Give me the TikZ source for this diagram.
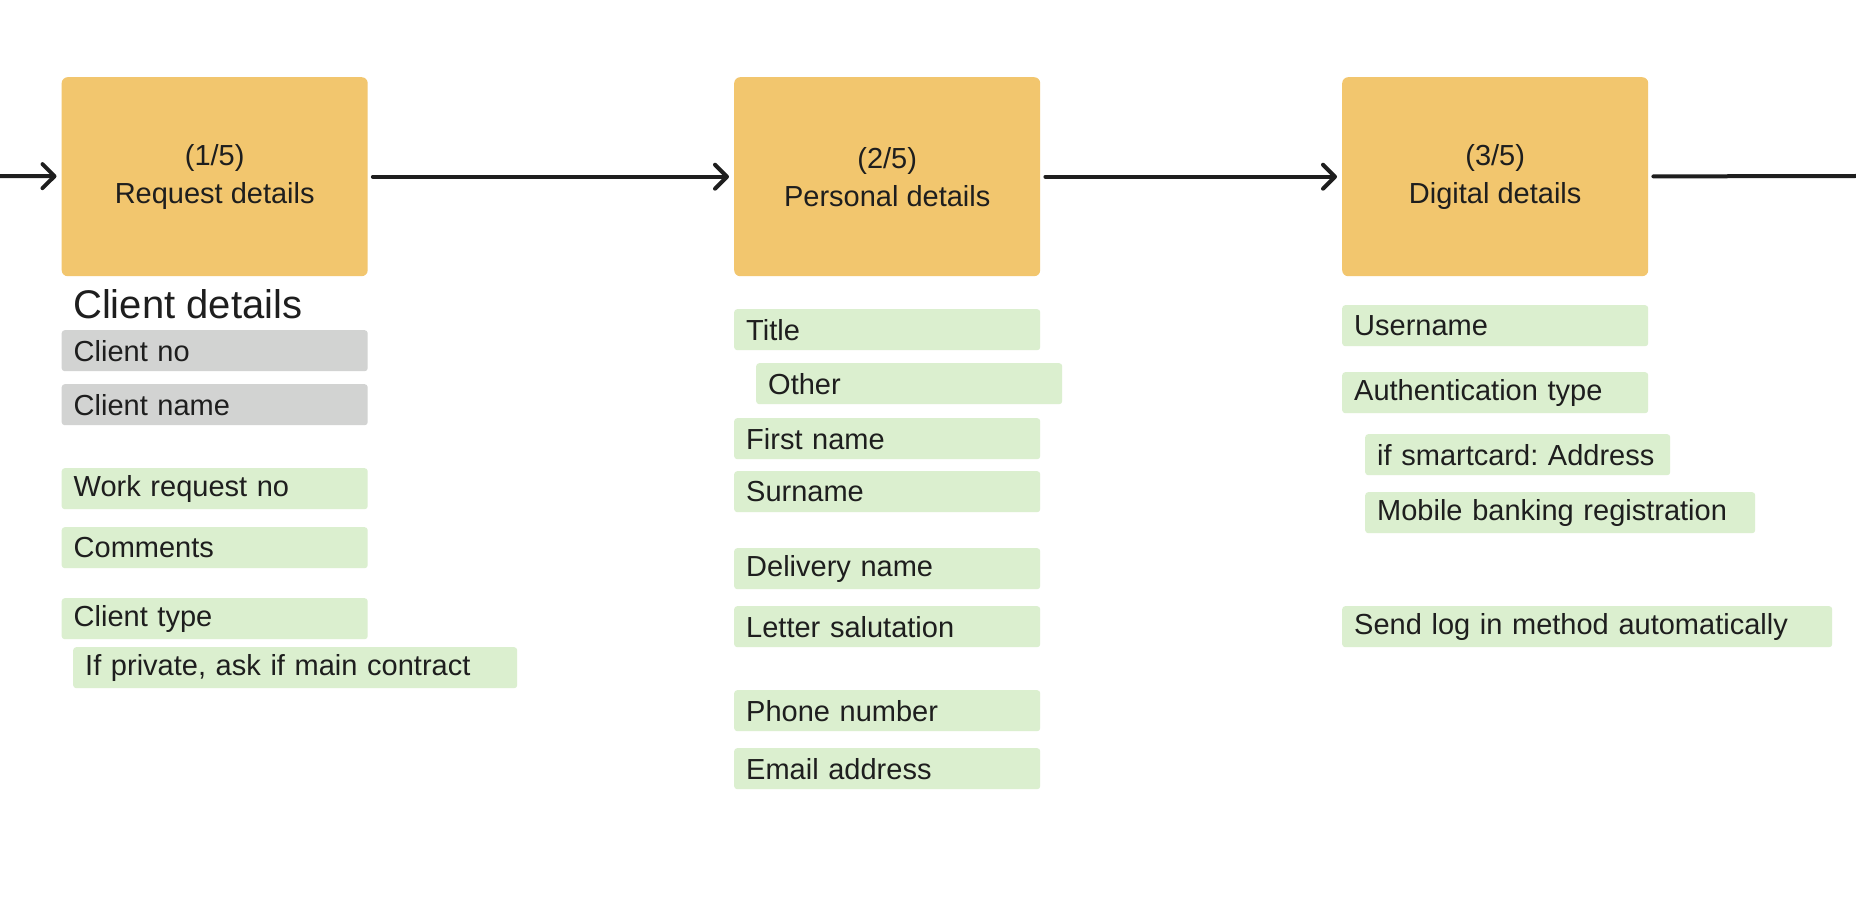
\documentclass[tikz,border=0pt]{standalone}
\usepackage{fontspec}
\setmainfont{Liberation Sans}
\usetikzlibrary{arrows.meta}
\definecolor{ink}{HTML}{1E1E1E}
\definecolor{stepfill}{HTML}{F2C66E}
\definecolor{fieldgreen}{HTML}{DBEFCF}
\definecolor{fieldgray}{HTML}{D2D3D2}
\frenchspacing
\begin{document}
\begin{tikzpicture}[x=1pt,y=-1pt,
  stepbox/.style={rectangle, rounded corners=6pt, fill=stepfill, minimum width=306pt, minimum height=199pt, anchor=north west, align=center, inner sep=0pt, font=\fontsize{29}{38}\selectfont, text=ink},
  fieldbox/.style={rectangle, rounded corners=3pt, fill=fieldgreen, minimum height=41pt, anchor=north west, inner xsep=12pt, inner ysep=0pt, text width=#1, align=left, font=\fontsize{29}{34}\selectfont, text=ink},
  fieldbox/.default=282pt,
  grayfield/.style={fieldbox, fill=fieldgray},
  heading/.style={anchor=west, inner sep=0pt, font=\fontsize{40}{48}\selectfont, text=ink},
  conn/.style={draw=ink, line width=4pt, line cap=round, -{Straight Barb[length=12pt,width=24pt,round]}, shorten <=5pt, shorten >=5pt},
  connend/.style={draw=ink, line width=4pt, line cap=round, shorten <=5pt}]
\useasboundingbox (0,0) rectangle (1856,904);
\fill[white] (0,0) rectangle (1856,904);

% step boxes
\node[stepbox] (s1) at (61.5,77) {(1/5)\\Request details};
\node[stepbox] (s2) at (734,77) {(2/5)\\Personal details};
\node[stepbox] (s3) at (1342,77) {(3/5)\\Digital details};

% connectors
\coordinate (in) at (-6,176);
\coordinate (out) at (1856,176);
\draw[conn] (in) -- (s1);
\draw[conn] (s1) -- (s2);
\draw[conn] (s2) -- (s3);
\draw[connend] (s3) -- (out);

% column 1
\node[heading] (hd) at (73,304) {Client details};
\node[grayfield] (cno) at (61.5,330) {Client no};
\node[grayfield] (cname) at (61.5,384) {Client name};
\node[fieldbox] (wrn) at (61.5,468) {Work request no};
\node[fieldbox] (comm) at (61.5,527) {Comments};
\node[fieldbox] (ctype) at (61.5,598) {Client type};
\node[fieldbox=420pt] (priv) at (73,647) {If private, ask if main contract};

% column 2
\node[fieldbox] (title) at (734,309) {Title};
\node[fieldbox] (other) at (756,363) {Other};
\node[fieldbox] (first) at (734,418) {First name};
\node[fieldbox] (sur) at (734,471) {Surname};
\node[fieldbox] (deliv) at (734,548) {Delivery name};
\node[fieldbox] (letter) at (734,606) {Letter salutation};
\node[fieldbox] (phone) at (734,690) {Phone number};
\node[fieldbox] (email) at (734,748) {Email address};

% column 3
\node[fieldbox] (user) at (1342,305) {Username};
\node[fieldbox] (auth) at (1342,372) {Authentication type};
\node[fieldbox=281pt] (smart) at (1365,434) {\mbox{if smartcard: Address}};
\node[fieldbox=366pt] (mobile) at (1365,492) {Mobile banking registration};
\node[fieldbox=466pt] (send) at (1342,606) {Send log in method automatically};
\end{tikzpicture}
\end{document}
